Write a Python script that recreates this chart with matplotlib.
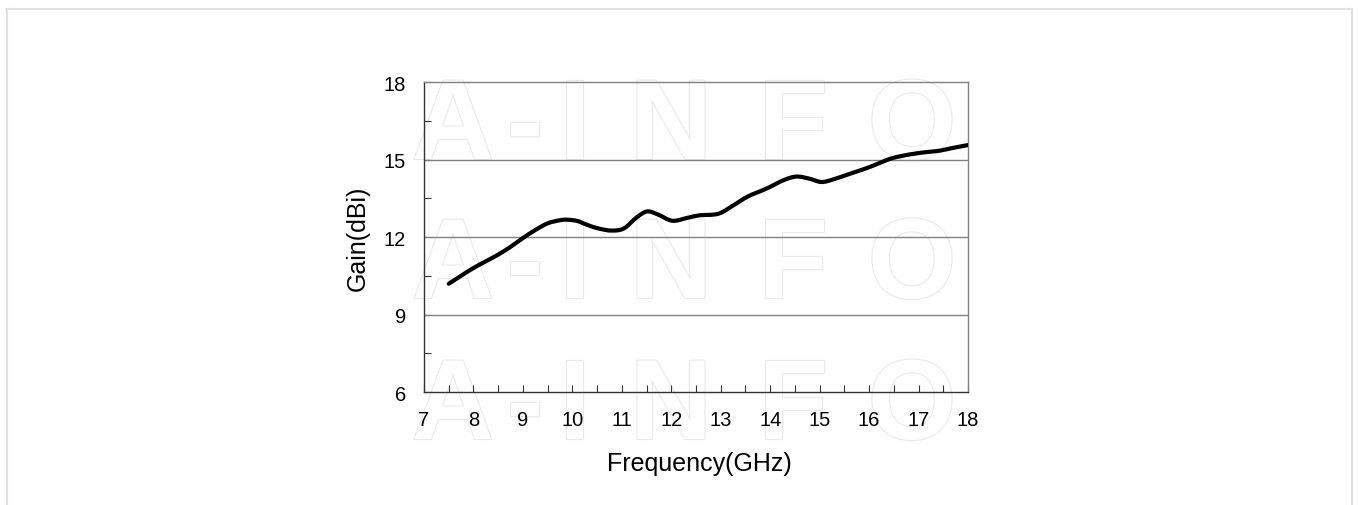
import numpy as np
import matplotlib
matplotlib.use('Agg')
import matplotlib.pyplot as plt
import matplotlib.patheffects as pe
from matplotlib.lines import Line2D
from matplotlib.path import Path
from matplotlib.patches import PathPatch

# Gain curve
freq = [7.5, 7.75, 8.0, 8.25, 8.5, 8.75, 9.0, 9.25, 9.5, 9.75, 9.9, 10.1,
        10.3, 10.53, 10.79, 11.04, 11.3, 11.51, 11.72, 12.02, 12.32, 12.57,
        12.95, 13.25, 13.55, 13.93, 14.27, 14.53, 14.79, 15.04, 15.29, 15.63,
        15.97, 16.23, 16.48, 16.83, 17.17, 17.42, 17.67, 18.0]
gain = [10.19, 10.5, 10.8, 11.06, 11.32, 11.62, 11.96, 12.27, 12.53, 12.65, 12.67, 12.62,
        12.47, 12.33, 12.25, 12.33, 12.76, 12.99, 12.88, 12.63, 12.74, 12.84,
        12.9, 13.22, 13.57, 13.88, 14.2, 14.34, 14.26, 14.13, 14.24, 14.46,
        14.68, 14.88, 15.06, 15.2, 15.29, 15.34, 15.44, 15.56]

xticks = list(range(7, 19))
yticks = [6, 9, 12, 15, 18]
watermark = "A-INFO"

plt.rcParams['font.family'] = ['Liberation Sans', 'DejaVu Sans']

fig = plt.figure(figsize=(13.59, 5.06), dpi=100)
ax = fig.add_axes([0.312, 0.2233, 0.4003, 0.6126])
ax.patch.set_alpha(0)

# faint outlined watermark, three rows
letter_x = [453, 525, 575, 671, 793, 912]   # pixel centres of each letter
row_y = [131, 270, 411]
for yc in row_y:
    for ch, xc in zip(watermark, letter_x):
        fig.text(xc / 1359, 1 - yc / 506, ch, fontsize=82, fontweight='bold',
                 color='white', ha='center', va='center', zorder=-5,
                 path_effects=[pe.Stroke(linewidth=1.6, foreground='#e9e9e9'), pe.Normal()])


# smooth curve through the read points (Catmull-Rom as cubic Bezier)
def smooth_path(xs, ys):
    p = np.column_stack([xs, ys])
    verts = [p[0]]
    codes = [Path.MOVETO]
    for i in range(len(p) - 1):
        p0 = p[i - 1] if i > 0 else p[i]
        p3 = p[i + 2] if i + 2 < len(p) else p[i + 1]
        c1 = p[i] + (p[i + 1] - p0) / 6
        c2 = p[i + 1] - (p3 - p[i]) / 6
        verts += [c1, c2, p[i + 1]]
        codes += [Path.CURVE4] * 3
    return Path(verts, codes)


ax.add_patch(PathPatch(smooth_path(freq, gain), facecolor='none', edgecolor='black',
                       lw=3.0, capstyle='round', joinstyle='round', zorder=5))

ax.set_xlim(7, 18)
ax.set_ylim(6, 18)
ax.set_xticks(xticks)
ax.set_xticks(np.arange(7.5, 18, 1.0), minor=True)
ax.set_yticks(yticks)
ax.set_yticks([7.5, 10.5, 13.5, 16.5], minor=True)
ax.tick_params(which='both', direction='in', length=5, width=0.8, color='#333333')
ax.tick_params(axis='both', which='major', labelsize=14.5, pad=13)

for y in [9, 12, 15]:
    ax.axhline(y, color='#808080', lw=1.0, zorder=2)

ax.spines['left'].set_color('#333333')
ax.spines['bottom'].set_color('#333333')
ax.spines['top'].set_color('#808080')
ax.spines['right'].set_color('#808080')
for s in ax.spines.values():
    s.set_linewidth(1.0)

ax.set_xlabel('Frequency(GHz)', fontsize=18)
ax.set_ylabel('Gain(dBi)', fontsize=18)
ax.xaxis.set_label_coords(0.507, -0.19)
ax.yaxis.set_label_coords(-0.10, 0.5)

# light frame round the picture
fc = '#e2e2e2'
fig.add_artist(Line2D([6 / 1359, 1352 / 1359], [1 - 10 / 506] * 2, color=fc, lw=1.5))
fig.add_artist(Line2D([6.5 / 1359] * 2, [0, 1 - 10 / 506], color=fc, lw=1.5))
fig.add_artist(Line2D([1351.5 / 1359] * 2, [0, 1 - 10 / 506], color=fc, lw=1.5))

fig.savefig('out.png', dpi=100)
